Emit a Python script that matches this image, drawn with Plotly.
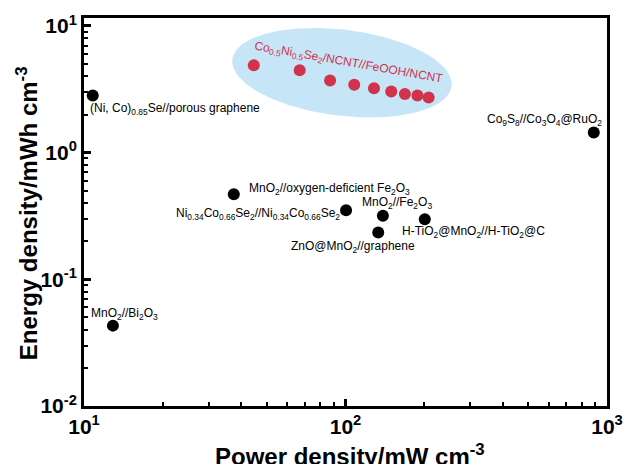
import numpy as np
import plotly.graph_objects as go

# Reference devices (power density in mW cm^-3, energy density in mWh cm^-3)
ref_labels = [
    "(Ni, Co)<sub>0.85</sub>Se//porous graphene",
    "Co<sub>9</sub>S<sub>8</sub>//Co<sub>3</sub>O<sub>4</sub>@RuO<sub>2</sub>",
    "MnO<sub>2</sub>//oxygen-deficient Fe<sub>2</sub>O<sub>3</sub>",
    "Ni<sub>0.34</sub>Co<sub>0.66</sub>Se<sub>2</sub>//Ni<sub>0.34</sub>Co<sub>0.66</sub>Se<sub>2</sub>",
    "MnO<sub>2</sub>//Fe<sub>2</sub>O<sub>3</sub>",
    "H-TiO<sub>2</sub>@MnO<sub>2</sub>//H-TiO<sub>2</sub>@C",
    "ZnO@MnO<sub>2</sub>//graphene",
    "MnO<sub>2</sub>//Bi<sub>2</sub>O<sub>3</sub>",
]
ref_power = [10.8, 890, 37.4, 100.5, 139, 201, 133.4, 12.9]
ref_energy = [2.83, 1.44, 0.469, 0.351, 0.317, 0.298, 0.234, 0.0431]

# This work
this_label = "Co<sub>0.5</sub>Ni<sub>0.5</sub>Se<sub>2</sub>/NCNT//FeOOH/NCNT"
this_power = [44.6, 66.8, 87.3, 108, 128.5, 149.6, 168.7, 188.4, 208]
this_energy = [4.90, 4.47, 3.71, 3.43, 3.22, 3.04, 2.91, 2.83, 2.73]

# Axis ticks
x_tickvals = [10, 100, 1000]
x_ticktext = ["<b>10<sup>1</sup></b>", "<b>10<sup>2</sup></b>", "<b>10<sup>3</sup></b>"]
y_tickvals = [0.01, 0.1, 1, 10]
y_ticktext = ["<b>10<sup>-2</sup></b>", "<b>10<sup>-1</sup></b>",
              "<b>10<sup>0</sup></b>", "<b>10<sup>1</sup></b>"]

W, H = 627, 464
ML, MR, MT, MB = 84, 20, 18, 58
X_RANGE = [1, 3]
Y_RANGE = [-2, 1.063]
plot_w = W - ML - MR
plot_h = H - MT - MB
px_per_dec_x = plot_w / (X_RANGE[1] - X_RANGE[0])
px_per_dec_y = plot_h / (Y_RANGE[1] - Y_RANGE[0])

FONT = "Arial, Liberation Sans, sans-serif"
RED = "#d0334b"
BLUE = "#c6e6f8"

# Highlight ellipse around this work's series (tilted, sized in screen pixels)
cx_log, cy_log = 1.9865, 0.631
a_px, b_px, tilt = 110.5, 43.0, np.deg2rad(7)
t = np.linspace(0, 2 * np.pi, 240)
dx = a_px * np.cos(t) * np.cos(tilt) - b_px * np.sin(t) * np.sin(tilt)
dy = a_px * np.cos(t) * np.sin(tilt) + b_px * np.sin(t) * np.cos(tilt)
ell_x = 10 ** (cx_log + dx / px_per_dec_x)
ell_y = 10 ** (cy_log - dy / px_per_dec_y)

fig = go.Figure()
fig.add_trace(go.Scatter(x=ell_x, y=ell_y, mode="lines", fill="toself",
                         fillcolor=BLUE, line=dict(width=0), hoverinfo="skip",
                         showlegend=False))
fig.add_trace(go.Scatter(x=ref_power, y=ref_energy, mode="markers",
                         marker=dict(size=12, color="black"), showlegend=False))
fig.add_trace(go.Scatter(x=this_power, y=this_energy, mode="markers",
                         marker=dict(size=12, color=RED), showlegend=False))

# label placement relative to each reference point: (xanchor, xshift, yshift)
label_pos = [
    ("left", -5, -14),
    ("right", 10, 13),
    ("left", 13, 5),
    ("right", -4, -4),
    ("center", 14, 13),
    ("left", -25, -13),
    ("center", -25, -14),
    ("center", 12, 12),
]
for lab, xv, yv, (xa, xs, ys) in zip(ref_labels, ref_power, ref_energy, label_pos):
    fig.add_annotation(x=np.log10(xv), y=np.log10(yv), text=lab, showarrow=False,
                       xanchor=xa, yanchor="middle", xshift=xs, yshift=ys,
                       font=dict(family=FONT, size=12, color="black"))

fig.add_annotation(x=np.log10(this_power[3]), y=np.log10(this_energy[3]),
                   text=this_label, showarrow=False, textangle=10,
                   xanchor="center", yanchor="middle", xshift=-6, yshift=22,
                   font=dict(family=FONT, size=12, color=RED))

# axis titles
fig.add_annotation(xref="paper", yref="paper", x=(27 - ML) / plot_w, y=0.497,
                   text="<b>Energy density/mWh cm<sup>-3</sup></b>", textangle=-90,
                   showarrow=False, xanchor="center", yanchor="middle",
                   font=dict(family=FONT, size=24, color="black"))
fig.add_annotation(xref="paper", yref="paper", x=(350 - ML) / plot_w,
                   y=-(455 - (MT + plot_h)) / plot_h,
                   text="<b>Power density/mW cm<sup>-3</sup></b>",
                   showarrow=False, xanchor="center", yanchor="middle",
                   font=dict(family=FONT, size=24, color="black"))

x_minor = [k * 10 ** e for e in (1, 2) for k in range(2, 10)]
y_minor = [k * 10 ** e for e in (-2, -1, 0) for k in range(2, 10)]

axis_common = dict(type="log", showline=True, linewidth=3, linecolor="black",
                   mirror=True, showgrid=False, zeroline=False,
                   ticks="inside", ticklen=7, tickwidth=2.5, tickcolor="black",
                   tickfont=dict(family=FONT, size=21, color="black"))

fig.update_xaxes(range=X_RANGE, tickmode="array", tickvals=x_tickvals,
                 ticktext=x_ticktext,
                 minor=dict(tickmode="array", tickvals=x_minor, ticks="inside",
                            ticklen=4, tickwidth=2, tickcolor="black", showgrid=False),
                 **axis_common)
fig.update_yaxes(range=Y_RANGE, tickmode="array", tickvals=y_tickvals,
                 ticktext=y_ticktext,
                 minor=dict(tickmode="array", tickvals=y_minor, ticks="inside",
                            ticklen=4, tickwidth=2, tickcolor="black", showgrid=False),
                 **axis_common)

fig.update_layout(width=W, height=H, margin=dict(l=ML, r=MR, t=MT, b=MB, autoexpand=False),
                  paper_bgcolor="white", plot_bgcolor="white", showlegend=False,
                  font=dict(family=FONT))

fig.write_html("out.html")
